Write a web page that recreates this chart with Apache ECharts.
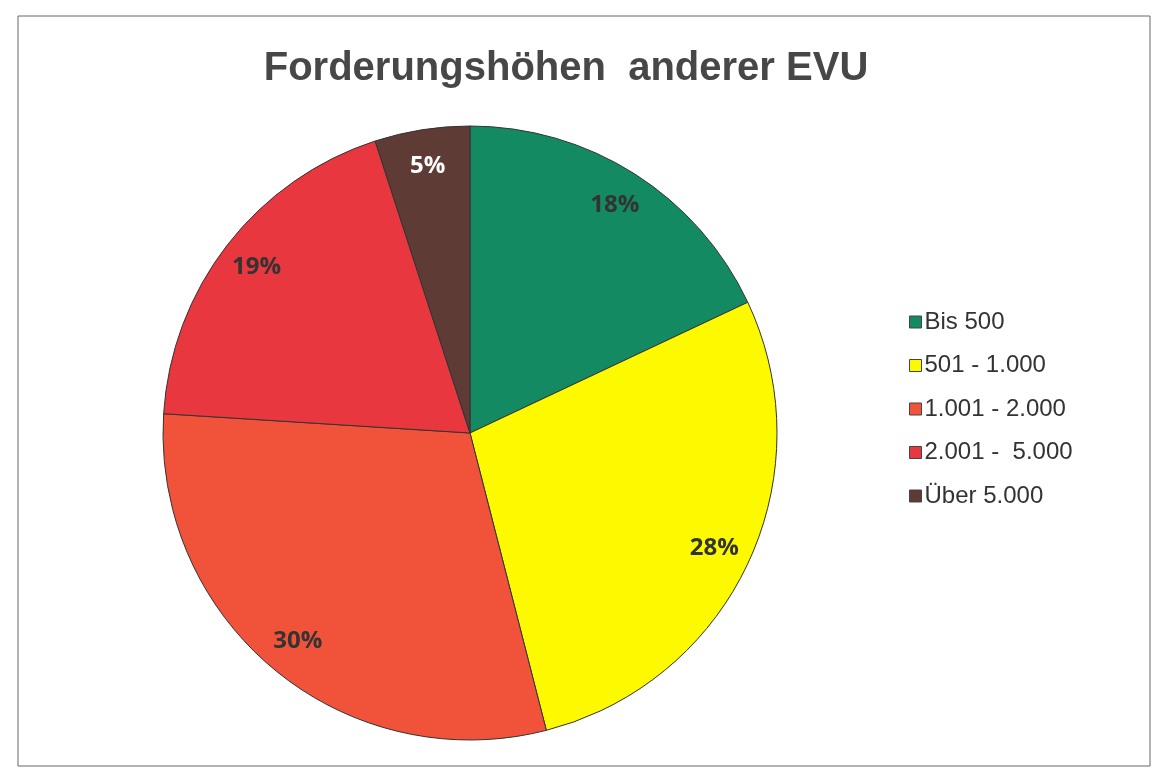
<!DOCTYPE html>
<html>
<head>
<meta charset="utf-8">
<script src="https://cdn.jsdelivr.net/npm/echarts@6/dist/echarts.min.js"></script>
<style>
  html, body { margin: 0; padding: 0; background: #fff; }
  #chart { width: 1155px; height: 770px; }
</style>
</head>
<body>
<div id="chart"></div>
<script>
// Kategorien und Anteile (%)
const categories = ['Bis 500', '501 - 1.000', '1.001 - 2.000', '2.001 -  5.000', 'Über 5.000'];
const shares = [18, 28, 30, 19, 5];
const sliceColors = ['#138a62', '#fdfa00', '#f0533a', '#e8373f', '#5e3b35'];
const labelColors = ['#333333', '#333333', '#333333', '#333333', '#ffffff'];

const R = 307;
const center = [470, 433];

const pieData = categories.map((name, i) => ({
  name: name,
  value: shares[i],
  itemStyle: { color: sliceColors[i] }
}));

// Beschriftungen liegen bei ca. 0.87 R -> eigener, transparenter Ring
const labelData = categories.map((name, i) => ({
  name: name,
  value: shares[i],
  itemStyle: { color: 'rgba(0,0,0,0)', borderWidth: 0 },
  label: { color: labelColors[i] }
}));

const chart = echarts.init(document.getElementById('chart'));
chart.setOption({
  animation: false,
  title: {
    text: 'Forderungshöhen  anderer EVU',
    left: 561,
    textAlign: 'center',
    top: 44,
    textStyle: {
      fontFamily: 'Liberation Sans, Arial, sans-serif',
      fontSize: 40,
      fontWeight: 'bold',
      color: '#474747'
    }
  },
  legend: {
    orient: 'vertical',
    left: 904,
    top: 305,
    itemWidth: 12,
    itemHeight: 12,
    itemGap: 19.5,
    icon: 'rect',
    data: categories.map((name, i) => ({
      name: name,
      itemStyle: { color: sliceColors[i], borderColor: '#444', borderWidth: 1 }
    })),
    textStyle: {
      fontFamily: 'Liberation Sans, Arial, sans-serif',
      fontSize: 24,
      lineHeight: 24,
      color: '#333333',
      padding: [0, 0, 0, -2]
    }
  },
  graphic: [{
    type: 'rect',
    shape: { x: 18, y: 16, width: 1132, height: 750 },
    style: { fill: 'none', stroke: '#666', lineWidth: 1 },
    silent: true
  }],
  series: [
    {
      type: 'pie',
      center: center,
      radius: [0, R],
      startAngle: 90,
      clockwise: true,
      label: { show: false },
      labelLine: { show: false },
      itemStyle: { borderColor: '#333', borderWidth: 1 },
      emphasis: { disabled: true },
      data: pieData
    },
    {
      type: 'pie',
      center: center,
      radius: [R * 0.74, R],
      startAngle: 90,
      clockwise: true,
      silent: true,
      label: {
        show: true,
        position: 'inside',
        formatter: '{c}%',
        fontFamily: 'Open Sans, Noto Sans, sans-serif',
        fontWeight: 'bold',
        fontSize: 24
      },
      labelLine: { show: false },
      emphasis: { disabled: true },
      data: labelData
    }
  ]
});
</script>
</body>
</html>
